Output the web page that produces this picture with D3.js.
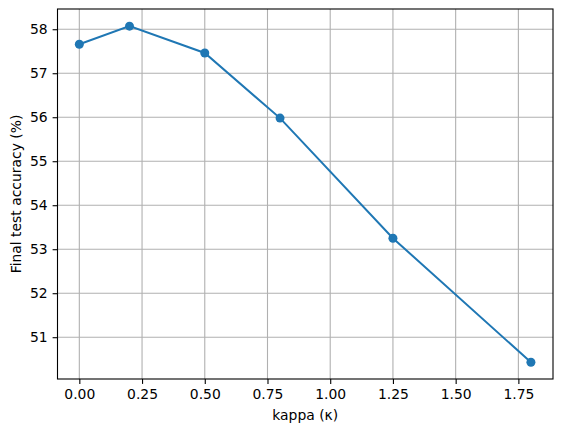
<!DOCTYPE html>
<html><head><meta charset="utf-8">
<script src="https://cdn.jsdelivr.net/npm/d3@7"></script>
<style>body{margin:0;background:#fff}text{font-family:"DejaVu Sans",sans-serif}</style>
</head><body><svg id="c" width="562" height="432"></svg>
<script>
var kappa = [0, 0.2, 0.5, 0.8, 1.25, 1.8];
var accuracy = [57.66, 58.07, 57.46, 55.98, 53.25, 50.43];
var xTicks = [0, 0.25, 0.5, 0.75, 1.0, 1.25, 1.5, 1.75];
var yTicks = [51, 52, 53, 54, 55, 56, 57, 58];

var L = 57.5, R = 553, T = 9, B = 379;
var svg = d3.select("#c");
var x = d3.scaleLinear().domain([-0.087, 1.888]).range([L, R]);
var y = d3.scaleLinear().domain([50.05, 58.46]).range([B, T]);

// grid
svg.append("g").selectAll("line").data(xTicks).join("line")
  .attr("x1", d => x(d)).attr("x2", d => x(d)).attr("y1", T).attr("y2", B)
  .attr("stroke", "#b0b0b0").attr("stroke-width", 1.1);
svg.append("g").selectAll("line").data(yTicks).join("line")
  .attr("y1", d => y(d)).attr("y2", d => y(d)).attr("x1", L).attr("x2", R)
  .attr("stroke", "#b0b0b0").attr("stroke-width", 1.1);

var xa = svg.append("g").attr("transform", "translate(0," + B + ")")
  .call(d3.axisBottom(x).tickValues(xTicks).tickFormat(d3.format(".2f")).tickSize(4.9).tickPadding(4.9));
var ya = svg.append("g").attr("transform", "translate(" + L + ",0)")
  .call(d3.axisLeft(y).tickValues(yTicks).tickFormat(d3.format("d")).tickSize(4.9).tickPadding(4.9));
[xa, ya].forEach(function(a) {
  a.select(".domain").remove();
  a.selectAll("text").attr("font-size", 13.9).attr("fill", "#000");
  a.selectAll("line").attr("stroke", "#000").attr("stroke-width", 1.1);
});

svg.append("rect").attr("x", L).attr("y", T).attr("width", R - L).attr("height", B - T)
  .attr("fill", "none").attr("stroke", "#000").attr("stroke-width", 1.1);

var line = d3.line().x((d, i) => x(kappa[i])).y(d => y(d));
svg.append("path").datum(accuracy).attr("d", line)
  .attr("fill", "none").attr("stroke", "#1f77b4").attr("stroke-width", 2);
svg.append("g").selectAll("circle").data(accuracy).join("circle")
  .attr("cx", (d, i) => x(kappa[i])).attr("cy", d => y(d)).attr("r", 4.5).attr("fill", "#1f77b4");

svg.append("text").attr("x", (L + R) / 2).attr("y", 420).attr("text-anchor", "middle")
  .attr("font-size", 13.9).text("kappa (κ)");
svg.append("text").attr("transform", "translate(21," + (T + B) / 2 + ") rotate(-90)")
  .attr("text-anchor", "middle").attr("font-size", 13.9).text("Final test accuracy (%)");
</script></body></html>
